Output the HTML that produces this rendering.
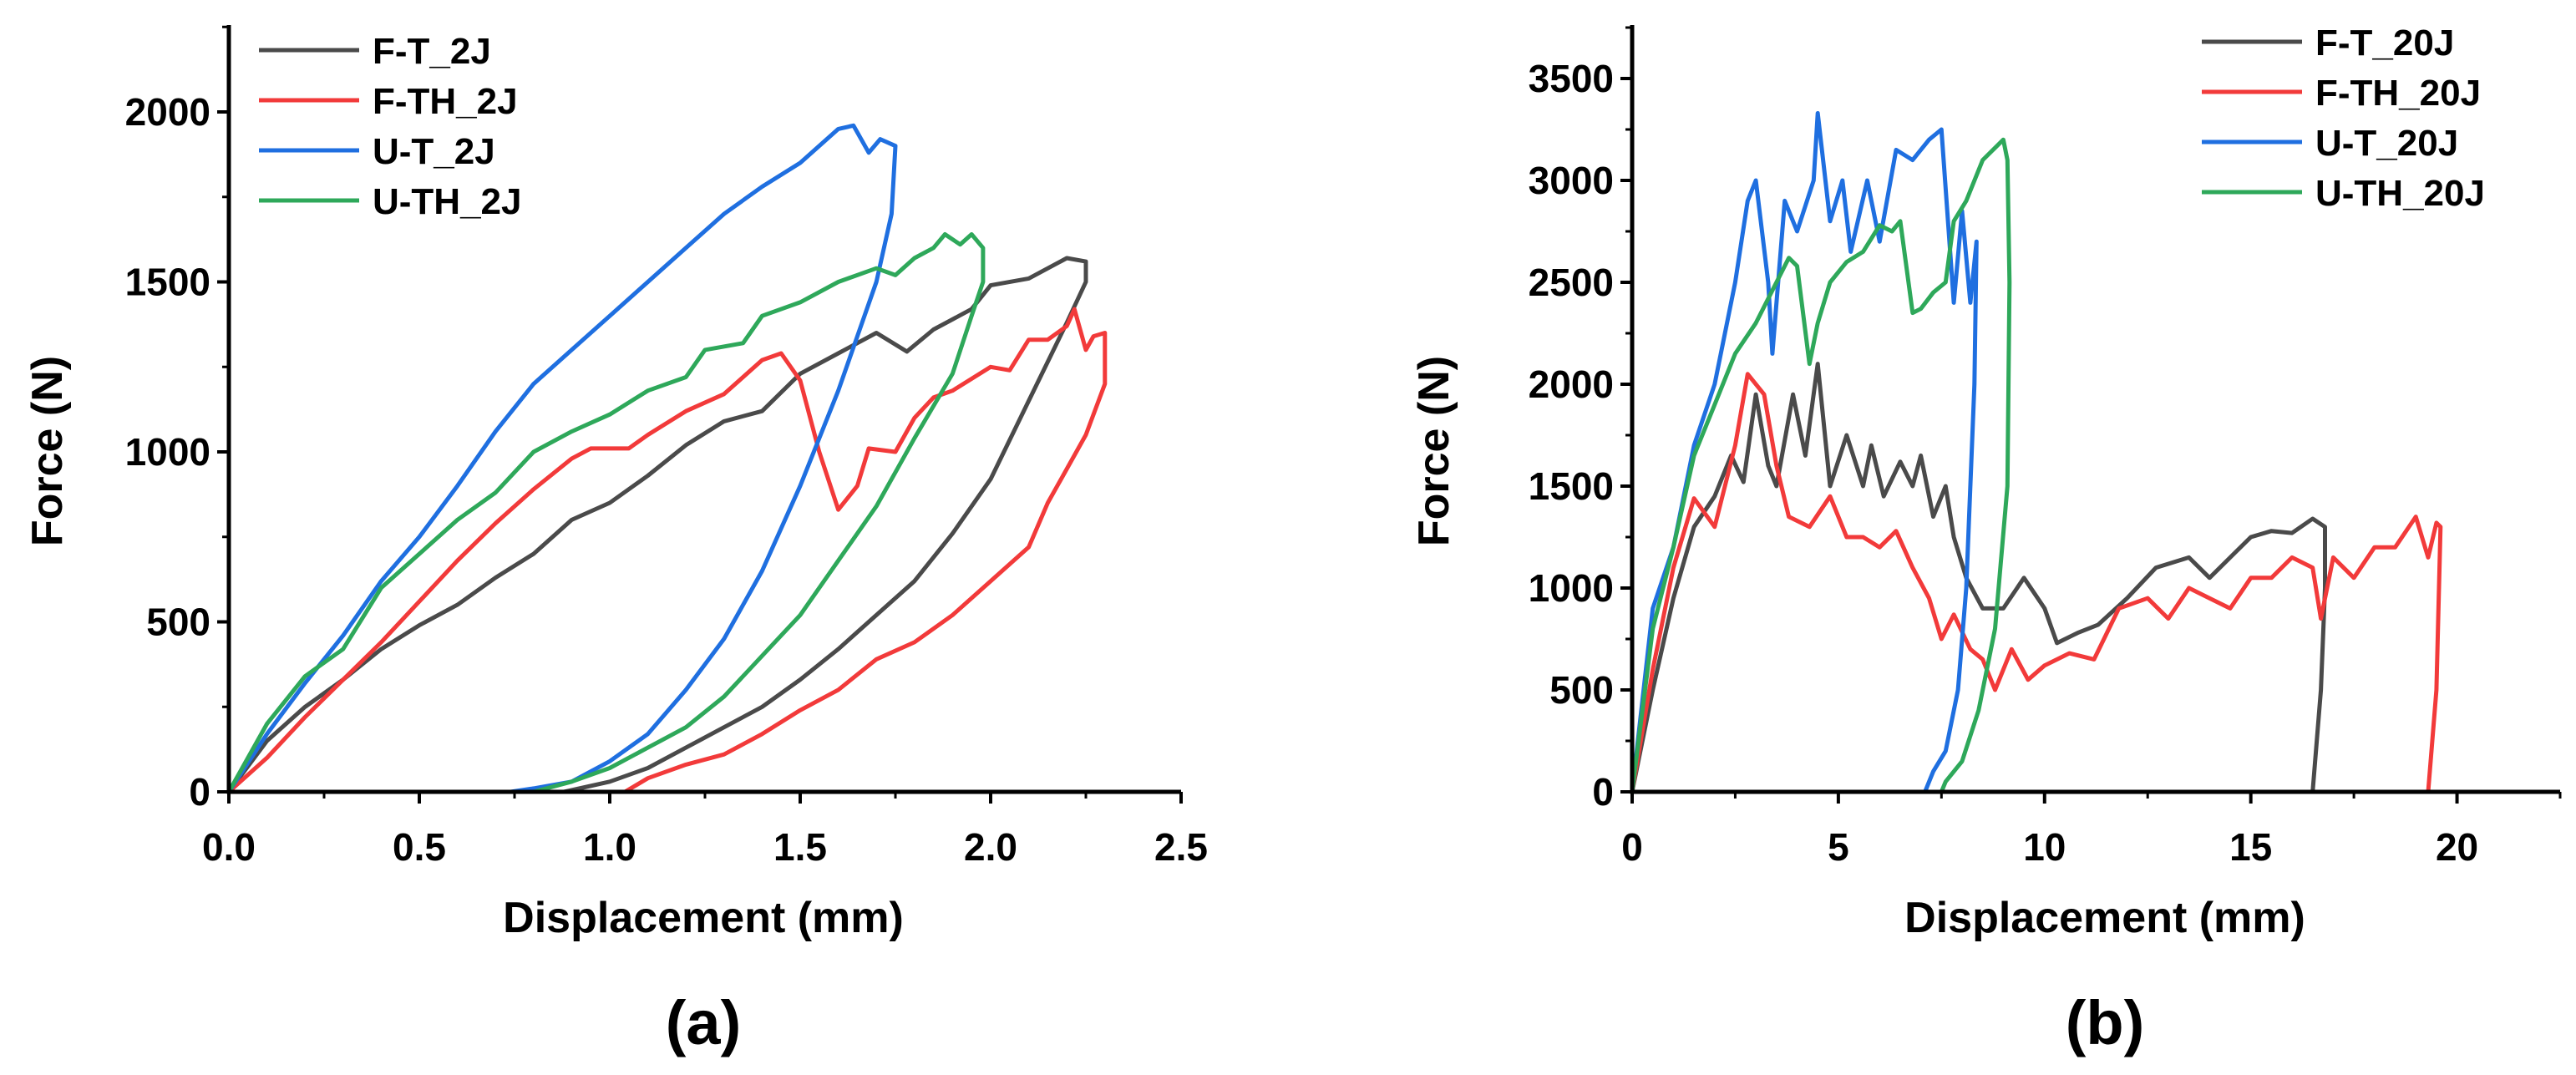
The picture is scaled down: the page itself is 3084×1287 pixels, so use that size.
<!DOCTYPE html>
<html><head><meta charset="utf-8"><style>
html,body{margin:0;padding:0;background:#fff}
svg text{font-family:"Liberation Sans",Arial,sans-serif;font-weight:bold;fill:#000}
</style></head><body>
<svg id="fig" width="3084" height="1282" viewBox="0 0 3084 1282" xmlns="http://www.w3.org/2000/svg"></svg>
<script>
// ---- Chart (a) data ----
const aXTicks=[0,0.5,1.0,1.5,2.0,2.5];
const aXTickLabels=["0.0","0.5","1.0","1.5","2.0","2.5"];
const aYTicks=[0,500,1000,1500,2000];
const aSeriesNames=["F-T_2J","F-TH_2J","U-T_2J","U-TH_2J"];
const aFT_x=[0,0.1,0.2,0.3,0.4,0.5,0.6,0.7,0.8,0.9,1.0,1.1,1.2,1.3,1.4,1.5,1.6,1.7,1.78,1.85,1.95,2.0,2.1,2.2,2.25,2.25,2.2,2.1,2.0,1.9,1.8,1.7,1.6,1.5,1.4,1.3,1.2,1.1,1.0,0.88];
const aFT_y=[0,150,250,330,420,490,550,630,700,800,850,930,1020,1090,1120,1230,1290,1350,1295,1360,1420,1490,1510,1570,1560,1500,1380,1150,920,760,620,520,420,330,250,190,130,70,30,0];
const aFTH_x=[0,0.1,0.2,0.3,0.4,0.5,0.6,0.7,0.8,0.9,0.95,1.05,1.1,1.2,1.3,1.4,1.45,1.5,1.55,1.6,1.65,1.68,1.75,1.8,1.85,1.9,2.0,2.05,2.1,2.15,2.2,2.22,2.25,2.27,2.3,2.3,2.25,2.2,2.15,2.1,2.0,1.9,1.8,1.7,1.6,1.5,1.4,1.3,1.2,1.1,1.04];
const aFTH_y=[0,100,220,330,440,560,680,790,890,980,1010,1010,1050,1120,1170,1270,1290,1210,1000,830,900,1010,1000,1100,1160,1180,1250,1240,1330,1330,1370,1420,1300,1340,1350,1200,1050,950,850,720,620,520,440,390,300,240,170,110,80,40,0];
const aUT_x=[0,0.1,0.2,0.3,0.4,0.5,0.6,0.7,0.8,0.9,1.0,1.1,1.2,1.3,1.4,1.5,1.6,1.64,1.68,1.71,1.75,1.74,1.7,1.6,1.5,1.4,1.3,1.2,1.1,1.0,0.9,0.8,0.74];
const aUT_y=[0,170,320,460,620,750,900,1060,1200,1300,1400,1500,1600,1700,1780,1850,1950,1960,1880,1920,1900,1700,1500,1180,900,650,450,300,170,90,30,10,0];
const aUTH_x=[0,0.1,0.2,0.3,0.4,0.5,0.6,0.7,0.8,0.9,1.0,1.1,1.2,1.25,1.35,1.4,1.5,1.6,1.7,1.75,1.8,1.85,1.88,1.92,1.95,1.98,1.98,1.95,1.9,1.8,1.7,1.6,1.5,1.4,1.3,1.2,1.1,1.0,0.9,0.8];
const aUTH_y=[0,200,340,420,600,700,800,880,1000,1060,1110,1180,1220,1300,1320,1400,1440,1500,1540,1520,1570,1600,1640,1610,1640,1600,1500,1400,1230,1040,840,680,520,400,280,190,130,70,30,0];
// ---- Chart (b) data ----
const bXTicks=[0,5,10,15,20];
const bXTickLabels=["0","5","10","15","20"];
const bYTicks=[0,500,1000,1500,2000,2500,3000,3500];
const bSeriesNames=["F-T_20J","F-TH_20J","U-T_20J","U-TH_20J"];
const bFT_x=[0,0.5,1,1.5,2,2.4,2.7,3.0,3.3,3.5,3.9,4.2,4.5,4.8,5.2,5.6,5.8,6.1,6.5,6.8,7.0,7.3,7.6,7.8,8.1,8.5,9.0,9.5,10,10.3,10.8,11.3,12,12.7,13.5,14.0,14.5,15,15.5,16,16.5,16.8,16.8,16.7,16.5];
const bFT_y=[0,500,950,1300,1450,1650,1520,1950,1600,1500,1950,1650,2100,1500,1750,1500,1700,1450,1620,1500,1650,1350,1500,1250,1050,900,900,1050,900,730,780,820,950,1100,1150,1050,1150,1250,1280,1270,1340,1300,1000,500,0];
const bFTH_x=[0,0.5,1,1.5,2,2.5,2.8,3.2,3.5,3.8,4.3,4.8,5.2,5.6,6.0,6.4,6.8,7.2,7.5,7.8,8.2,8.5,8.8,9.2,9.6,10,10.6,11.2,11.8,12.5,13,13.5,14,14.5,15,15.5,16,16.5,16.7,17,17.5,18,18.5,19,19.3,19.5,19.6,19.5,19.3];
const bFTH_y=[0,600,1100,1440,1300,1700,2050,1950,1600,1350,1300,1450,1250,1250,1200,1280,1100,950,750,870,700,650,500,700,550,620,680,650,900,950,850,1000,950,900,1050,1050,1150,1100,850,1150,1050,1200,1200,1350,1150,1320,1300,500,0];
const bUT_x=[0,0.5,1,1.5,2,2.5,2.8,3.0,3.3,3.4,3.7,4.0,4.4,4.5,4.8,5.1,5.3,5.7,6.0,6.4,6.8,7.2,7.5,7.8,8.0,8.2,8.35,8.3,8.1,7.9,7.6,7.3,7.1];
const bUT_y=[0,900,1200,1700,2000,2500,2900,3000,2500,2150,2900,2750,3000,3330,2800,3000,2650,3000,2700,3150,3100,3200,3250,2400,2850,2400,2700,2000,1000,500,200,100,0];
const bUTH_x=[0,0.5,1,1.5,2,2.5,3,3.5,3.8,4.0,4.3,4.5,4.8,5.2,5.6,6.0,6.3,6.5,6.8,7.0,7.3,7.6,7.8,8.1,8.5,9.0,9.1,9.15,9.1,8.8,8.4,8.0,7.6,7.5];
const bUTH_y=[0,800,1200,1650,1900,2150,2300,2500,2620,2580,2100,2300,2500,2600,2650,2780,2750,2800,2350,2370,2450,2500,2800,2900,3100,3200,3100,2500,1500,800,400,150,50,0];

const colors=["#4a4a4a","#f23a3a","#1f6fe0","#2ea85a"];
const NS="http://www.w3.org/2000/svg";
const svg=document.getElementById('fig');
function mk(tag,attrs,parent){const e=document.createElementNS(NS,tag);for(const k in attrs)e.setAttribute(k,attrs[k]);(parent||svg).appendChild(e);return e;}

function drawChart(cfg){
  const g=mk('g',{});
  
  
  const sx=v=>cfg.x0+(v-cfg.xmin)*(cfg.x1-cfg.x0)/(cfg.xmax-cfg.xmin);
  const sy=v=>cfg.y0-(v)*(cfg.y0-cfg.yTopPx)/(cfg.yTopVal);
  cfg.series.forEach((s,i)=>{
    let d='';
    for(let k=0;k<s.x.length;k++)d+=(k?'L':'M')+sx(s.x[k]).toFixed(1)+','+sy(s.y[k]).toFixed(1);
    const p=mk('path',{d:d,fill:'none',stroke:colors[i],'stroke-width':5,'stroke-linejoin':'round'},g);
    
    
  });
  const ax=mk('path',{d:`M${cfg.x0},${cfg.axTop}V${cfg.y0}H${cfg.x1}`,fill:'none',stroke:'#000','stroke-width':5},g);
  
  
  cfg.xTicks.forEach((v,i)=>{
    const x=sx(v);
    mk('line',{x1:x,x2:x,y1:cfg.y0,y2:cfg.y0+14,stroke:'#000','stroke-width':4},g);
    const xm=sx(v+cfg.xMinor);if(xm<=cfg.x1+1)mk('line',{x1:xm,x2:xm,y1:cfg.y0,y2:cfg.y0+8,stroke:'#000','stroke-width':3},g);
    const t=mk('text',{x:x,y:cfg.y0+82,'text-anchor':'middle','font-size':46},g);
    t.textContent=cfg.xTickLabels[i];
    
    
  });
  cfg.yTicks.forEach(v=>{
    const y=sy(v);
    mk('line',{x1:cfg.x0-14,x2:cfg.x0,y1:y,y2:y,stroke:'#000','stroke-width':4},g);
    const ym=sy(v+cfg.yMinor);
    if(ym>=cfg.axTop)mk('line',{x1:cfg.x0-8,x2:cfg.x0,y1:ym,y2:ym,stroke:'#000','stroke-width':3},g);
    const t=mk('text',{x:cfg.x0-22,y:y+16,'text-anchor':'end','font-size':46},g);
    t.textContent=String(v);
    
    
  });
  const xt=mk('text',{x:cfg.xTitleX,y:1116,'text-anchor':'middle','font-size':52},g);
  xt.textContent='Displacement (mm)';
  
  
  const yt=mk('text',{x:0,y:0,'text-anchor':'middle','font-size':52,transform:`translate(${cfg.yTitleX},540) rotate(-90)`},g);
  yt.textContent='Force (N)';
  
  
  cfg.names.forEach((n,i)=>{
    const y=cfg.legY+i*60;
    const l=mk('line',{x1:cfg.legX,x2:cfg.legX+120,y1:y,y2:y,stroke:colors[i],'stroke-width':5},g);
    
    
    const t=mk('text',{x:cfg.legX+136,y:y+16,'font-size':44},g);
    t.textContent=n;
    
    
  });
  const pl=mk('text',{x:cfg.xTitleX,y:1250,'text-anchor':'middle','font-size':74},g);
  pl.textContent=cfg.panel;
  
  
}

drawChart({name:'chart-a',x0:274,x1:1414,xmin:0,xmax:2.5,y0:948,yTopPx:134,yTopVal:2000,axTop:30,
  xTicks:aXTicks,xTickLabels:aXTickLabels,xMinor:0.25,yTicks:aYTicks,yMinor:250,
  names:aSeriesNames,series:[{x:aFT_x,y:aFT_y},{x:aFTH_x,y:aFTH_y},{x:aUT_x,y:aUT_y},{x:aUTH_x,y:aUTH_y}],
  xTitleX:842,yTitleX:74,legX:310,legY:60,panel:'(a)'});
drawChart({name:'chart-b',x0:1954,x1:3065,xmin:0,xmax:22.5,y0:948,yTopPx:94,yTopVal:3500,axTop:30,
  xTicks:bXTicks,xTickLabels:bXTickLabels,xMinor:2.5,yTicks:bYTicks,yMinor:250,
  names:bSeriesNames,series:[{x:bFT_x,y:bFT_y},{x:bFTH_x,y:bFTH_y},{x:bUT_x,y:bUT_y},{x:bUTH_x,y:bUTH_y}],
  xTitleX:2520,yTitleX:1734,legX:2636,legY:50,panel:'(b)'});
</script>
</body></html>
